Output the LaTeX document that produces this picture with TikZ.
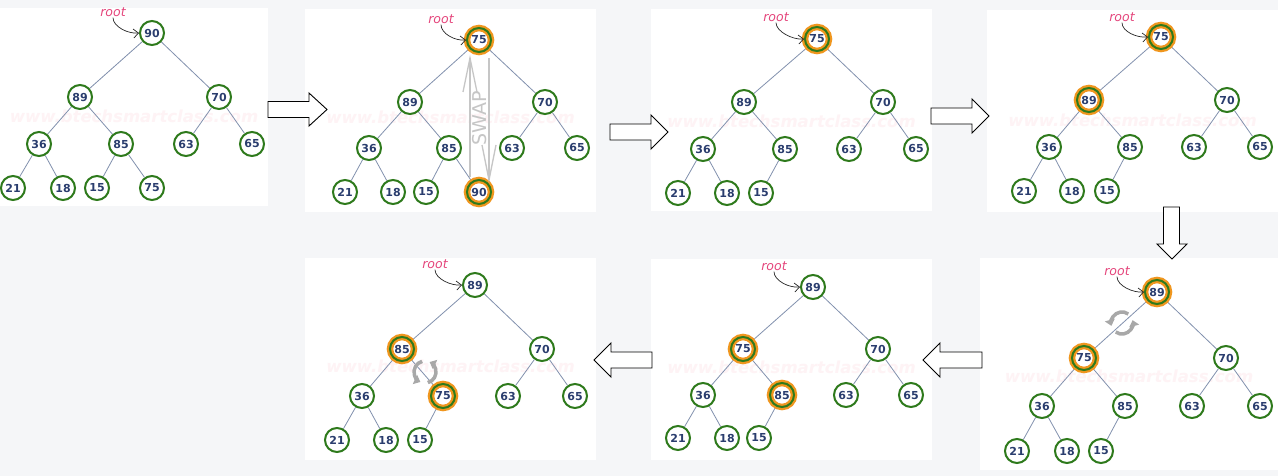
\documentclass[tikz,border=0pt]{standalone}
\usepackage{fontspec}
\setmainfont{DejaVu Sans}
\usetikzlibrary{arrows.meta}
\pgfdeclarelayer{back}
\pgfdeclarelayer{edges}
\pgfsetlayers{back,edges,main}
\definecolor{bgc}{HTML}{F5F6F8}
\definecolor{ngreen}{HTML}{2E7A1C}
\definecolor{navy}{HTML}{2A3D6E}
\definecolor{edgec}{HTML}{8291AE}
\definecolor{horange}{HTML}{F0961E}
\definecolor{rootpink}{HTML}{E5467C}
\definecolor{iconc}{HTML}{A8A8A8}
\definecolor{swapc}{HTML}{C6C6C6}
\definecolor{wmpink}{HTML}{FEF3F5}
\tikzset{
  hn/.style={circle, draw=ngreen, line width=2pt, fill=white, minimum size=24pt,
    inner sep=0pt, font=\bfseries\fontsize{11}{11}\selectfont, text=navy},
  hl/.style={fill=none, preaction={draw=horange, line width=6.5pt, fill=white}},
  plain/.style={},
  apply/.code={\pgfkeysalso{#1}},
  tedge/.style={draw=edgec, line width=0.8pt},
  rootlbl/.style={text=rootpink, font=\itshape\fontsize{12.5}{12.5}\selectfont, inner sep=1pt},
  rootarr/.style={draw=black!85, line width=0.7pt, -{Straight Barb[length=5pt,width=9pt]}},
  panel/.style={fill=white},
  blockarrow/.style={draw=black, fill=white, line width=0.9pt, line join=miter},
  wm/.style={text=wmpink, font=\bfseries\itshape\fontsize{16.5}{16.5}\selectfont, inner sep=0pt},
  cyc/.style={draw=iconc, line width=3.5pt, -{Triangle[length=6pt,width=10pt]}},
}
% prefix, number of nodes, list, root label x, root label y
\newcommand\heappanel[5]{%
  \foreach \i/\x/\y/\v/\s in {#3} {\node[hn, apply/.expanded=\s] (#1\i) at (\x,\y) {\v};}
  \begin{pgfonlayer}{edges}
    \foreach \c in {2,...,#2} {\pgfmathtruncatemacro\p{\c/2}\draw[tedge] (#1\p) -- (#1\c);}
  \end{pgfonlayer}
  \node[rootlbl] (#1r) at (#4,#5) {root};
  \draw[rootarr] (#1r.south) .. controls +(0,9) and +(-11,1) .. (#11.west);
}
% panel rectangle and watermark
\newcommand\panelbox[5]{%
  \begin{pgfonlayer}{back}
    \fill[panel] (#1,#2) rectangle (#3,#4);
    \node[wm] at ({(#1+#3)/2},#5) {www.btechsmartclass.com};
  \end{pgfonlayer}
}
\newcommand\cycleicon[3]{%
  \begin{scope}[shift={(#1,#2)}, rotate=#3]
    \draw[cyc] (55:11pt) arc (55:195:11pt);
    \draw[cyc] (235:11pt) arc (235:375:11pt);
  \end{scope}
}
\begin{document}
\begin{tikzpicture}[x=1pt,y=-1pt]
\begin{pgfonlayer}{back}
  \fill[bgc] (0,0) rectangle (1278,476);
\end{pgfonlayer}
\useasboundingbox (0,0) rectangle (1278,476);

\panelbox{0}{8}{268}{206}{116}
\panelbox{305}{9}{596}{212}{117}
\panelbox{651}{9}{932}{211}{121}
\panelbox{987}{10}{1278}{212}{120}
\panelbox{980}{258}{1278}{470}{376}
\panelbox{651}{259}{932}{460}{367}
\panelbox{305}{258}{596}{460}{366}

% panel 1
\heappanel{a}{11}{1/152/33/90/plain, 2/80/97/89/plain, 3/219/97/70/plain, 4/39/144/36/plain,
  5/121/144/85/plain, 6/186/144/63/plain, 7/252/144/65/plain, 8/13/188/21/plain,
  9/63/188/18/plain, 10/97/188/15/plain, 11/152/188/75/plain}{113}{12}

% panel 2
\heappanel{b}{11}{1/479/40/75/hl, 2/410/102/89/plain, 3/545/102/70/plain, 4/369/148/36/plain,
  5/449/148/85/plain, 6/512/148/63/plain, 7/577/148/65/plain, 8/345/192/21/plain,
  9/393/192/18/plain, 10/426/192/15/plain, 11/479/192/90/hl}{441}{19}
% swap sign
\coordinate (sl1) at (470,58);
\coordinate (sl2) at (470,177);
\coordinate (sr1) at (489,58);
\coordinate (sr2) at (489,180);
\draw[swapc, line width=1.6pt] (sl1) -- (sl2);
\draw[swapc, line width=1.6pt] (sr1) -- (sr2);
\draw[swapc, line width=1.3pt, line join=miter] (463,92) -- (sl1) -- (477,92);
\draw[swapc, line width=1.3pt, line join=miter] (482,145) -- (sr2) -- (496,145);
\node[rotate=90, text=swapc, font=\fontsize{19}{19}\selectfont, inner sep=0pt] (swaptxt) at (480,118) {SWAP};

% panel 3
\heappanel{c}{10}{1/817/39/75/hl, 2/744/102/89/plain, 3/883/102/70/plain, 4/703/149/36/plain,
  5/785/149/85/plain, 6/849/149/63/plain, 7/916/149/65/plain, 8/678/193/21/plain,
  9/727/193/18/plain, 10/761/193/15/plain}{776}{17}

% panel 4
\heappanel{d}{10}{1/1161/37/75/hl, 2/1089/100/89/hl, 3/1227/100/70/plain, 4/1049/147/36/plain,
  5/1130/147/85/plain, 6/1194/147/63/plain, 7/1260/147/65/plain, 8/1024/191/21/plain,
  9/1072/191/18/plain, 10/1107/191/15/plain}{1122}{17}

% panel 5
\heappanel{e}{10}{1/1157/292/89/hl, 2/1084/358/75/hl, 3/1226/358/70/plain, 4/1042/406/36/plain,
  5/1125/406/85/plain, 6/1192/406/63/plain, 7/1260/406/65/plain, 8/1017/451/21/plain,
  9/1067/451/18/plain, 10/1101/451/15/plain}{1117}{271}
\cycleicon{1122}{323}{0}

% panel 6
\heappanel{f}{10}{1/813/287/89/plain, 2/743/349/75/hl, 3/878/349/70/plain, 4/703/395/36/plain,
  5/782/395/85/hl, 6/846/395/63/plain, 7/911/395/65/plain, 8/678/438/21/plain,
  9/727/438/18/plain, 10/759/438/15/plain}{774}{266}

% panel 7
\heappanel{g}{10}{1/475/285/89/plain, 2/402/349/85/hl, 3/542/349/70/plain, 4/362/396/36/plain,
  5/443/396/75/hl, 6/508/396/63/plain, 7/575/396/65/plain, 8/337/440/21/plain,
  9/386/440/18/plain, 10/420/440/15/plain}{435}{264}
\cycleicon{425}{372}{50}

% block arrows
\draw[blockarrow] (268,101.5) -- (309,101.5) -- (309,93) -- (327,109.5) -- (309,126) -- (309,117.5) -- (268,117.5) -- cycle;
\draw[blockarrow] (610,124) -- (651,124) -- (651,115) -- (668,132) -- (651,149) -- (651,140) -- (610,140) -- cycle;
\draw[blockarrow] (931,108) -- (972,108) -- (972,99) -- (989,116) -- (972,133) -- (972,124) -- (931,124) -- cycle;
\draw[blockarrow] (1163.5,207) -- (1163.5,244) -- (1157,244) -- (1172,259) -- (1187,244) -- (1179.5,244) -- (1179.5,207) -- cycle;
\draw[blockarrow] (982,352) -- (940,352) -- (940,343) -- (923,360) -- (940,377) -- (940,368) -- (982,368) -- cycle;
\draw[blockarrow] (652,352) -- (611,352) -- (611,343) -- (594,360) -- (611,377) -- (611,368) -- (652,368) -- cycle;
\end{tikzpicture}
\end{document}
